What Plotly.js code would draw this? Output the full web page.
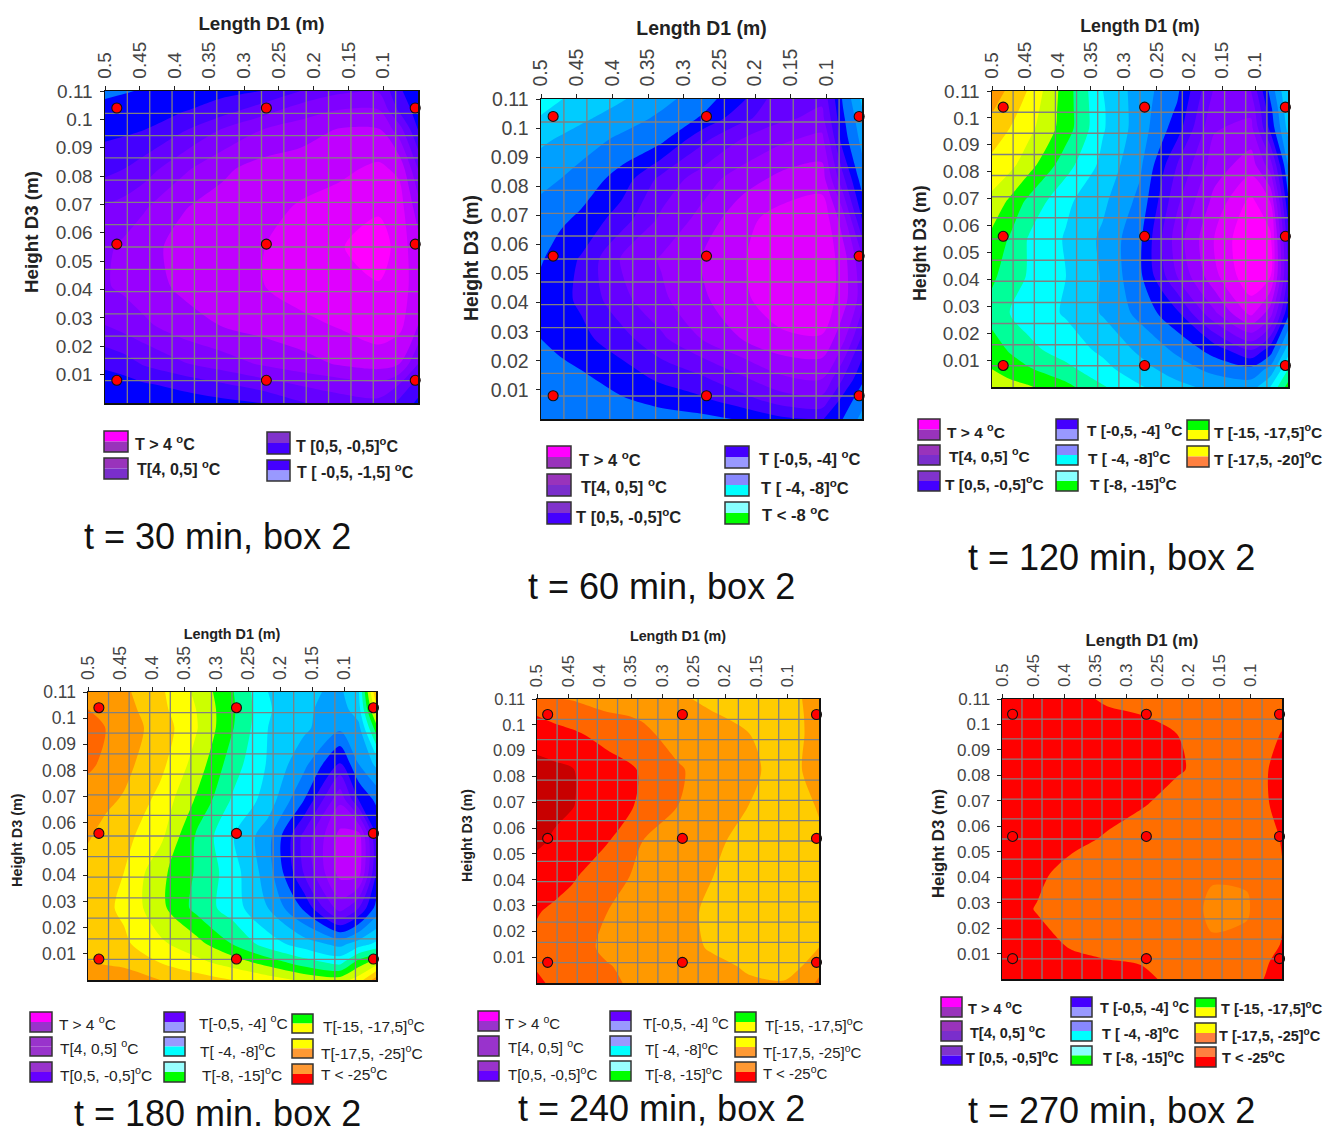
<!DOCTYPE html>
<html>
<head>
<meta charset="utf-8">
<script src="https://cdn.plot.ly/plotly-3.0.1.min.js"></script>
<style>html,body{margin:0;padding:0;background:#fff}</style>
</head>
<body>
<div id="chart" style="width:1324px;height:1126px"></div>
<script>
// Sampled axes of every map
const xNodes = [0.5, 0.473, 0.44375, 0.3875, 0.33125, 0.275, 0.21875, 0.1625, 0.10625, 0.077, 0.05];
const yNodes = [0.11, 0.1034, 0.09625, 0.0825, 0.06875, 0.055, 0.04125, 0.0275, 0.01375, 0.0066, 0];
const xTickVals = [0.5, 0.45, 0.4, 0.35, 0.3, 0.25, 0.2, 0.15, 0.1];
const xTickText = ['0.5', '0.45', '0.4', '0.35', '0.3', '0.25', '0.2', '0.15', '0.1'];
const yTickVals = [0.01, 0.02, 0.03, 0.04, 0.05, 0.06, 0.07, 0.08, 0.09, 0.1, 0.11];
const yTickText = ['0.01', '0.02', '0.03', '0.04', '0.05', '0.06', '0.07', '0.08', '0.09', '0.1', '0.11'];
const meshX = [0.4679, 0.4357, 0.4036, 0.3714, 0.3393, 0.3071, 0.275, 0.2429, 0.2107, 0.1786, 0.1464, 0.1143, 0.0821];
const meshY = [0.0079, 0.0157, 0.0236, 0.0314, 0.0393, 0.0471, 0.055, 0.0629, 0.0707, 0.0786, 0.0864, 0.0943, 0.1021];
const sensorX = [0.483, 0.268, 0.054];
const sensorY = [0.104, 0.056, 0.008];

// Colour band of each map, coldest (0) to warmest (20)
const bandColors = ['#c80000', '#ff0000', '#ff6600', '#ff9900', '#ffcc00', '#ffff00', '#ccff00', '#00ff00', '#00ff99', '#00ffff', '#00ccff',
  '#00a0ff', '#0077ff', '#0000ff', '#4400ff', '#6600ff', '#8000ff', '#9900ff', '#c000ff', '#e000ff', '#ff00ff'];
const bandColors270 = ['#c80000', '#ff0000', '#ff6e00', '#ff8800', '#ffcc00', '#ffff00', '#ccff00', '#00ff00', '#00ff99', '#00ffff', '#00ccff',
  '#00a0ff', '#0077ff', '#0000ff', '#4400ff', '#6600ff', '#8000ff', '#9900ff', '#c000ff', '#e000ff', '#ff00ff'];

const z30 = [
  [12.2, 12.4, 12.6, 13.0, 13.2, 13.5, 14.5, 15.3, 15.4, 13.7, 12.6],
  [12.9, 13.0, 13.1, 13.4, 14.0, 15.0, 16.0, 16.5, 16.5, 14.3, 13.0],
  [13.2, 13.3, 13.5, 14.4, 15.6, 16.5, 17.0, 17.6, 17.6, 16.0, 13.5],
  [14.2, 14.5, 15.0, 16.3, 17.3, 17.9, 18.1, 18.3, 18.7, 18.3, 15.5],
  [15.6, 15.9, 16.4, 17.45, 17.9, 18.2, 18.6, 18.9, 19.3, 19.0, 17.0],
  [16.3, 16.7, 17.2, 17.8, 18.0, 18.45, 19.0, 19.4, 20.2, 19.0, 17.9],
  [16.4, 16.7, 17.1, 17.7, 18.1, 18.45, 19.0, 19.3, 19.4, 19.0, 18.0],
  [15.5, 15.9, 16.3, 17.1, 17.55, 17.9, 18.2, 18.6, 19.1, 18.8, 17.5],
  [13.7, 14.0, 14.6, 15.4, 16.0, 16.6, 17.1, 17.6, 17.9, 17.5, 15.5],
  [13.0, 13.1, 13.4, 13.8, 14.4, 15.0, 15.6, 16.0, 16.3, 15.5, 14.0],
  [12.6, 12.7, 12.9, 13.0, 13.2, 13.5, 14.4, 15.0, 15.2, 14.2, 13.3]
];
const z60 = [
  [9.0, 9.45, 9.9, 10.4, 11.2, 12.0, 13.3, 15.2, 15.3, 12.4, 10.3],
  [9.6, 10.0, 10.3, 11.0, 11.7, 12.6, 14.2, 15.3, 15.8, 12.7, 10.8],
  [10.3, 10.6, 11.0, 11.7, 12.2, 14.2, 15.5, 16.3, 16.8, 13.0, 11.2],
  [11.2, 11.5, 11.9, 12.9, 14.8, 16.0, 17.0, 17.8, 18.0, 14.8, 12.0],
  [12.0, 12.3, 12.7, 14.0, 15.7, 16.8, 18.2, 18.9, 19.3, 17.0, 13.5],
  [12.4, 13.0, 13.6, 15.6, 16.6, 17.5, 18.4, 19.2, 19.4, 18.0, 15.7],
  [12.9, 13.2, 13.7, 15.2, 16.3, 17.3, 18.3, 19.1, 19.3, 18.0, 16.0],
  [12.5, 12.9, 13.2, 14.1, 15.3, 16.5, 17.5, 18.3, 18.4, 16.8, 14.3],
  [11.8, 12.0, 12.3, 12.9, 13.7, 14.3, 15.3, 16.3, 16.5, 14.5, 12.7],
  [11.7, 11.9, 12.1, 12.4, 12.8, 13.3, 14.1, 15.0, 15.2, 13.2, 11.9],
  [11.5, 11.6, 11.8, 12.0, 12.1, 12.2, 12.6, 13.3, 13.6, 12.5, 11.2]
];
const z120 = [
  [3.0, 3.7, 4.6, 7.0, 9.5, 11.0, 12.3, 15.6, 15.5, 12.2, 9.5],
  [3.4, 4.1, 4.9, 7.0, 9.4, 11.0, 12.6, 16.0, 16.2, 12.8, 9.8],
  [3.9, 4.5, 5.2, 7.0, 9.4, 11.0, 13.0, 16.4, 16.8, 13.2, 10.2],
  [4.8, 5.2, 6.1, 8.1, 9.8, 11.3, 14.5, 17.0, 18.0, 16.0, 11.5],
  [5.8, 6.7, 7.8, 9.3, 10.3, 11.8, 15.3, 17.8, 19.8, 18.5, 12.8],
  [6.8, 7.6, 8.6, 9.6, 10.7, 12.3, 16.0, 18.5, 20.5, 19.8, 14.0],
  [7.3, 8.0, 8.6, 9.5, 10.6, 12.3, 15.5, 18.2, 20.3, 19.6, 14.3],
  [7.9, 8.5, 9.0, 9.6, 10.6, 11.8, 13.3, 16.3, 18.8, 17.0, 12.8],
  [7.0, 7.6, 8.2, 9.0, 9.7, 10.7, 11.7, 12.9, 14.5, 13.0, 10.0],
  [6.5, 7.0, 7.4, 8.2, 9.2, 10.1, 11.0, 11.8, 12.2, 11.2, 8.5],
  [5.9, 6.1, 6.4, 7.2, 8.4, 9.4, 10.2, 10.8, 11.0, 9.5, 7.1]
];
const z180 = [
  [2.9, 3.0, 3.3, 4.3, 5.7, 7.4, 9.5, 10.3, 10.7, 9.6, 3.6],
  [2.5, 2.6, 3.1, 4.2, 5.5, 7.3, 9.4, 10.3, 11.0, 9.9, 5.0],
  [2.2, 2.5, 3.0, 3.9, 5.4, 7.4, 9.5, 10.3, 11.3, 10.8, 7.0],
  [2.3, 2.7, 3.2, 4.2, 5.9, 8.0, 9.6, 11.2, 13.7, 11.5, 10.3],
  [3.0, 3.3, 3.6, 4.8, 6.6, 8.6, 9.9, 12.5, 16.3, 13.5, 12.3],
  [3.4, 3.8, 4.2, 5.2, 7.6, 9.4, 11.1, 14.8, 17.8, 18.0, 13.6],
  [3.9, 4.2, 4.5, 6.2, 7.6, 9.0, 11.0, 14.6, 17.9, 18.0, 13.6],
  [4.0, 4.3, 4.7, 6.2, 7.8, 9.0, 10.5, 12.7, 16.0, 14.5, 12.2],
  [3.9, 4.1, 4.3, 5.3, 6.1, 7.5, 9.0, 10.0, 10.8, 10.0, 9.3],
  [3.4, 3.6, 3.7, 4.5, 5.2, 5.9, 6.9, 8.0, 8.8, 7.0, 6.0],
  [2.7, 2.8, 3.0, 3.5, 4.0, 4.5, 5.0, 5.7, 6.0, 5.0, 3.0]
];
const z240 = [
  [2.4, 2.45, 2.55, 3.0, 3.1, 3.3, 3.8, 4.0, 4.0, 3.5, 3.1],
  [1.5, 1.75, 2.0, 2.35, 2.6, 3.1, 3.4, 3.8, 4.0, 3.55, 3.1],
  [0.9, 1.1, 1.3, 1.9, 2.3, 2.85, 3.2, 3.47, 4.0, 3.55, 3.2],
  [0.2, 0.3, 0.45, 1.0, 1.6, 2.4, 2.9, 3.3, 3.85, 3.5, 3.2],
  [0.2, 0.3, 0.45, 1.2, 1.6, 2.5, 3.1, 3.5, 4.0, 3.8, 3.4],
  [0.35, 0.6, 0.9, 1.45, 2.5, 3.0, 3.35, 3.75, 4.0, 3.9, 3.7],
  [0.9, 1.15, 1.4, 2.0, 2.8, 3.1, 3.5, 4.0, 4.2, 4.1, 3.9],
  [1.45, 1.65, 1.85, 2.5, 2.9, 3.2, 3.7, 4.0, 4.2, 4.1, 3.9],
  [1.7, 1.9, 2.1, 2.7, 3.0, 3.2, 3.6, 3.9, 4.1, 3.9, 3.5],
  [1.6, 1.9, 2.1, 2.45, 2.8, 3.1, 3.3, 3.6, 3.8, 3.5, 2.9],
  [1.3, 1.7, 2.0, 2.35, 2.7, 3.0, 3.1, 3.4, 3.45, 3.1, 2.3]
];
const z270 = [
  [1.0, 1.0, 1.0, 1.2, 1.65, 1.9, 2.0, 2.0, 2.0, 2.0, 1.9],
  [1.0, 1.0, 1.0, 1.0, 1.3, 1.48, 1.8, 2.0, 2.0, 1.95, 1.75],
  [1.0, 1.0, 1.0, 1.0, 1.1, 1.2, 1.5, 2.0, 2.0, 1.85, 1.45],
  [1.0, 1.0, 1.0, 1.0, 1.0, 1.1, 1.4, 1.8, 1.95, 1.55, 1.3],
  [1.0, 1.0, 1.0, 1.0, 1.15, 1.42, 1.85, 2.1, 1.9, 1.55, 1.35],
  [1.0, 1.0, 1.0, 1.25, 1.6, 2.0, 2.2, 2.3, 2.1, 1.8, 1.45],
  [1.0, 1.1, 1.3, 1.85, 2.2, 2.3, 2.3, 2.4, 2.4, 2.0, 1.55],
  [1.0, 1.3, 1.55, 2.0, 2.0, 2.0, 1.9, 2.7, 2.6, 2.0, 1.6],
  [1.0, 1.1, 1.2, 1.6, 2.0, 2.0, 2.0, 2.4, 2.3, 1.9, 1.45],
  [1.0, 1.0, 1.0, 1.3, 1.4, 1.55, 1.9, 2.0, 2.0, 1.6, 1.2],
  [1.0, 1.0, 1.0, 1.1, 1.25, 1.3, 1.75, 1.9, 1.8, 1.47, 1.1]
];

// Legend wording
const lblHot = 'T > 4 <sup>o</sup>C';
const lblWarm = 'T[4, 0,5] <sup>o</sup>C';
const legend30 = [lblHot, lblWarm, 'T [0,5, -0,5]<sup>o</sup>C', 'T [ -0,5, -1,5] <sup>o</sup>C'];
const legend60 = [lblHot, lblWarm, 'T [0,5, -0,5]<sup>o</sup>C', 'T [-0,5, -4] <sup>o</sup>C', 'T [ -4, -8]<sup>o</sup>C', 'T < -8 <sup>o</sup>C'];
const legend120 = [lblHot, lblWarm, 'T [0,5, -0,5]<sup>o</sup>C', 'T [-0,5, -4] <sup>o</sup>C', 'T [ -4, -8]<sup>o</sup>C', 'T [-8, -15]<sup>o</sup>C', 'T [-15, -17,5]<sup>o</sup>C', 'T [-17,5, -20]<sup>o</sup>C'];
const legend180 = [lblHot, lblWarm, 'T[0,5, -0,5]<sup>o</sup>C', 'T[-0,5, -4] <sup>o</sup>C', 'T[ -4, -8]<sup>o</sup>C', 'T[-8, -15]<sup>o</sup>C', 'T[-15, -17,5]<sup>o</sup>C', 'T[-17,5, -25]<sup>o</sup>C', 'T < -25<sup>o</sup>C'];
const legend270 = [lblHot, lblWarm, 'T [0,5, -0,5]<sup>o</sup>C', 'T [-0,5, -4] <sup>o</sup>C', 'T [ -4, -8]<sup>o</sup>C', 'T [-8, -15]<sup>o</sup>C', 'T [-15, -17,5]<sup>o</sup>C', 'T [-17,5, -25]<sup>o</sup>C', 'T < -25<sup>o</sup>C'];

// Two-tone legend swatches (upper, lower)
const swA = [['#ff00ff', '#9933bb'], ['#9933bb', '#7a2ecc'], ['#8033cc', '#4400ff'], ['#4400ff', '#9999ff']];
const swB = [['#ff00ff', '#9933bb'], ['#9933bb', '#7a2ecc'], ['#8033cc', '#4400ff'], ['#4400ff', '#9999ff'], ['#8888ff', '#00ffff'], ['#88ffff', '#00ff00'], ['#00ff00', '#ffff00'], ['#ffff00', '#ff8040'], ['#ff8040', '#ff0000']];
const swC = [['#ff00ff', '#9933cc'], ['#9933cc', '#9933cc'], ['#9933cc', '#6600ff'], ['#6600ff', '#9999ff'], ['#9999ff', '#00ffff'], ['#99ffff', '#00ff00'], ['#00ff00', '#ffff00'], ['#ffff00', '#ff9933'], ['#ff9933', '#ff0000']];

// Page placement of the six panels
const panels = [
  {z: z30, pal: bandColors, cap: 't = 30 min, box 2', capX: 217, capY: 536, box: [105, 418, 91, 403], tick: 19, ttl: 18.8, gap: 6, yT: [31, 232], lab: legend30, sw: swA, bold: true, lf: 16,
   rows: [[104, 128, 431, 452, 135, 443], [104, 128, 458, 479, 137, 468], [267, 290, 432, 454, 296, 445], [267, 290, 460, 481, 297, 471]]},
  {z: z60, pal: bandColors, cap: 't = 60 min, box 2', capX: 661, capY: 586, box: [541, 862, 99, 419], tick: 19.5, ttl: 19.4, gap: 7, yT: [471, 258], lab: legend60, sw: swA.concat([swB[4], swB[5]]), bold: true, lf: 16.5,
   rows: [[547, 571, 446, 468, 579, 459], [547, 571, 474, 496, 581, 486], [547, 571, 502, 524, 576, 516], [725, 749, 446, 468, 759, 458], [725, 749, 474, 496, 761, 487], [725, 749, 502, 524, 762, 514]]},
  {z: z120, pal: bandColors, cap: 't = 120 min, box 2', capX: 1111, capY: 557, box: [992, 1288, 91, 387], tick: 19, ttl: 17.8, gap: 4, yT: [920, 243], lab: legend120, sw: swB.slice(0, 8), bold: true, lf: 15.5,
   rows: [[918, 940, 419, 440, 947, 431], [918, 940, 445, 465, 949, 455], [918, 940, 471, 491, 945, 483], [1056, 1078, 419, 440, 1087, 429], [1056, 1078, 445, 465, 1088, 457], [1056, 1078, 471, 491, 1090, 483], [1187, 1209, 420, 440, 1214, 431], [1187, 1209, 446, 467, 1214, 458]]},
  {z: z180, pal: bandColors, cap: 't = 180 min, box 2', capX: 218, capY: 1113, box: [88, 376, 692, 980], tick: 17.5, ttl: 14.4, gap: 3, yT: [17, 840], lab: legend180, sw: swC, bold: false, lf: 15.5,
   rows: [[30, 52, 1012, 1032, 59, 1023], [30, 52, 1037, 1056, 60, 1047], [30, 52, 1062, 1082, 60, 1074], [164, 185, 1012, 1032, 199, 1022], [164, 185, 1037, 1056, 200, 1050], [164, 185, 1062, 1082, 202, 1074], [292, 313, 1014, 1033, 323, 1025], [292, 313, 1039, 1058, 321, 1052], [292, 313, 1064, 1084, 321, 1073]]},
  {z: z240, pal: bandColors, cap: 't = 240 min, box 2', capX: 661, capY: 1108, box: [537, 819, 699, 983], tick: 16.5, ttl: 14.3, gap: 10, yT: [467, 835], lab: legend180, sw: swC, bold: false, lf: 15,
   rows: [[478, 499, 1011, 1031, 505, 1022], [478, 499, 1036, 1056, 508, 1046], [478, 499, 1061, 1081, 508, 1073], [610, 631, 1011, 1031, 643, 1022], [610, 631, 1036, 1056, 645, 1048], [610, 631, 1061, 1081, 645, 1073], [735, 756, 1012, 1032, 765, 1024], [735, 756, 1037, 1057, 763, 1051], [735, 756, 1062, 1082, 763, 1072]]},
  {z: z270, pal: bandColors270, cap: 't = 270 min, box 2', capX: 1111, capY: 1110, box: [1002, 1282, 699, 979], tick: 17, ttl: 16.8, gap: 3, yT: [938, 844], lab: legend270, sw: swB, bold: true, lf: 14.5,
   rows: [[941, 962, 997, 1017, 968, 1008], [941, 962, 1021, 1041, 970, 1032], [941, 962, 1046, 1065, 966, 1057], [1071, 1092, 997, 1017, 1100, 1007], [1071, 1092, 1021, 1041, 1102, 1033], [1071, 1092, 1046, 1065, 1103, 1057], [1195, 1216, 998, 1017, 1221, 1008], [1195, 1216, 1023, 1043, 1219, 1035], [1195, 1216, 1047, 1067, 1222, 1057]]}
];

const W = 1324, H = 1126;
const px = v => v / W, py = v => 1 - v / H;
const FONT = '"Liberation Sans", Arial, sans-serif';

const traces = [];
const layout = {
  width: W, height: H, margin: {l: 0, r: 0, t: 0, b: 0}, showlegend: false,
  paper_bgcolor: '#fff', plot_bgcolor: '#fff', font: {family: FONT, color: '#222'},
  shapes: [], annotations: []
};

panels.forEach((p, i) => {
  const n = i === 0 ? '' : String(i + 1);
  const xa = 'x' + n, ya = 'y' + n;
  const [l, r, t, b] = p.box;
  traces.push({
    type: 'contour', x: xNodes, y: yNodes, z: p.z, xaxis: xa, yaxis: ya,
    autocontour: false, zmin: 0, zmax: 20,
    contours: {start: 0.5, end: 19.5, size: 1, coloring: 'fill', showlines: false},
    line: {width: 0, smoothing: 0.8}, colorscale: p.pal.map((c, k) => [k / (p.pal.length - 1), c]), showscale: false, hoverinfo: 'skip'
  });
  const gx = [], gy = [];
  meshX.forEach(v => gx.push(v, v, null));
  meshX.forEach(() => gy.push(0, 0.11, null));
  meshY.forEach(v => { gx.push(0.5, 0.05, null); gy.push(v, v, null); });
  traces.push({type: 'scatter', mode: 'lines', x: gx, y: gy, xaxis: xa, yaxis: ya,
    line: {color: '#808080', width: 1.3}, hoverinfo: 'skip', connectgaps: false});
  const sx = [], sy = [];
  sensorY.forEach(y => sensorX.forEach(x => { sx.push(x); sy.push(y); }));
  traces.push({type: 'scatter', mode: 'markers', x: sx, y: sy, xaxis: xa, yaxis: ya, cliponaxis: false,
    marker: {color: '#ff0000', size: 10, line: {color: '#111', width: 1.1}}, hoverinfo: 'skip'});

  layout['xaxis' + n] = {
    domain: [px(l), px(r)], anchor: ya, side: 'top', range: [0.5, 0.05], showgrid: false, zeroline: false,
    tickmode: 'array', tickvals: xTickVals, ticktext: xTickText, tickangle: -90, ticks: 'outside', ticklen: 4, tickcolor: '#222',
    tickfont: {size: p.tick, color: '#444', family: FONT}, ticklabelstandoff: 3,
    showline: true, mirror: true, linecolor: '#111', linewidth: 1.5,
    title: {text: '<b>Length D1 (m)</b>', font: {size: p.ttl, color: '#222', family: FONT}, standoff: p.gap}
  };
  layout['yaxis' + n] = {
    domain: [py(b), py(t)], anchor: xa, range: [0, 0.11], showgrid: false, zeroline: false,
    tickmode: 'array', tickvals: yTickVals, ticktext: yTickText, ticks: 'outside', ticklen: 4, tickcolor: '#222',
    tickfont: {size: p.tick, color: '#444', family: FONT}, ticklabelstandoff: 3,
    showline: true, mirror: true, linecolor: '#111', linewidth: 1.5
  };
  layout.annotations.push({xref: 'paper', yref: 'paper', x: px(p.yT[0]), y: py(p.yT[1]), text: '<b>Height D3 (m)</b>', textangle: -90, showarrow: false, font: {size: p.ttl, color: '#222'}, xanchor: 'center', yanchor: 'middle'});
  layout.annotations.push({xref: 'paper', yref: 'paper', x: px(p.capX), y: py(p.capY), text: p.cap, showarrow: false, font: {size: 36, color: '#111'}, xanchor: 'center', yanchor: 'middle'});
  p.rows.forEach((row, k) => {
    const [x0, x1, y0, y1, tx, ty] = row;
    const ym = (y0 + y1) / 2;
    const base = {type: 'rect', xref: 'paper', yref: 'paper', x0: px(x0), x1: px(x1), layer: 'above'};
    layout.shapes.push(Object.assign({}, base, {y0: py(y0), y1: py(ym), fillcolor: p.sw[k][0], line: {width: 0}}));
    layout.shapes.push(Object.assign({}, base, {y0: py(ym), y1: py(y1), fillcolor: p.sw[k][1], line: {width: 0}}));
    layout.shapes.push(Object.assign({}, base, {y0: py(y0), y1: py(y1), line: {color: '#333', width: 1.5}}));
    layout.annotations.push({xref: 'paper', yref: 'paper', x: px(tx - 2.5), y: py(ty), text: p.bold ? '<b>' + p.lab[k] + '</b>' : p.lab[k], showarrow: false, font: {size: p.lf, color: '#222'}, xanchor: 'left', yanchor: 'middle'});
  });
});

Plotly.newPlot('chart', traces, layout, {displayModeBar: false, staticPlot: true});
</script>
</body>
</html>
